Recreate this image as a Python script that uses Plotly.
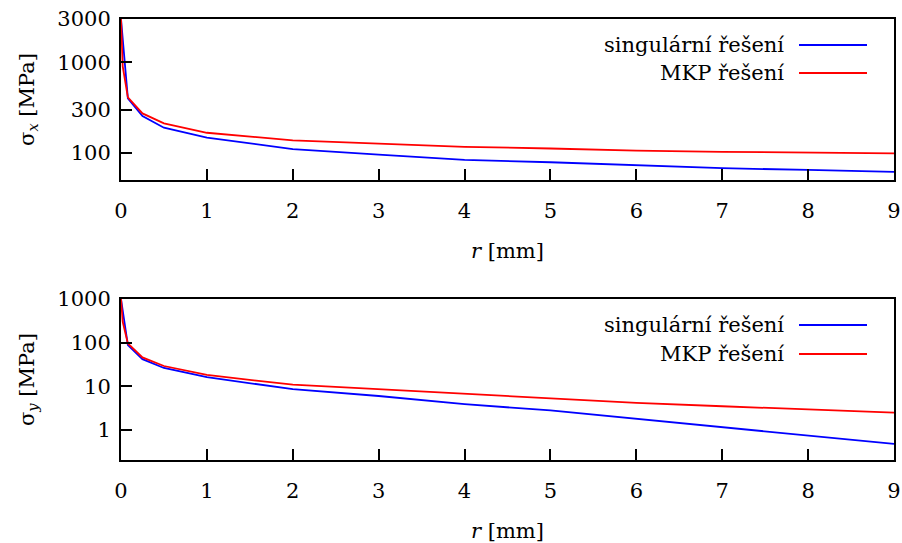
import plotly.graph_objects as go

# ---- data ----
r_sing_x = [0, 0.08, 0.25, 0.5, 1, 2, 3, 4, 5, 6, 7, 8, 9]
sx_sing = [3000, 400, 255, 190, 148, 110, 96, 84, 79, 73, 68, 65, 62]
r_mkp_x = [0, 0.02, 0.08, 0.25, 0.5, 1, 2, 3, 4, 5, 6, 7, 8, 9]
sx_mkp = [3000, 900, 410, 273, 212, 167, 138, 126, 117, 112, 106, 103, 101, 99]

r_sing_y = [0, 0.08, 0.25, 0.5, 1, 2, 3, 4, 5, 6, 7, 8, 9]
sy_sing = [1000, 88, 42, 26.3, 16.2, 8.6, 6.0, 3.9, 2.8, 1.8, 1.15, 0.74, 0.48]
r_mkp_y = [0, 0.02, 0.08, 0.25, 0.5, 1, 2, 3, 4, 5, 6, 7, 8, 9]
sy_mkp = [1000, 300, 96, 46, 29.2, 18.2, 10.9, 8.6, 6.6, 5.3, 4.2, 3.5, 3.0, 2.5]

x_ticks = [0, 1, 2, 3, 4, 5, 6, 7, 8, 9]
yx_ticks = [100, 300, 1000, 3000]
yy_ticks = [1, 10, 100, 1000]
legend_names = ["singulární řešení", "MKP řešení"]
colors = ["#0000ff", "#ff0000"]

W, H = 902, 543
FONT = "DejaVu Serif"
FS = 21

fig = go.Figure()
fig.add_trace(go.Scatter(x=r_sing_x, y=sx_sing, mode="lines", line=dict(color=colors[0], width=1.8),
                         xaxis="x", yaxis="y", showlegend=False))
fig.add_trace(go.Scatter(x=r_mkp_x, y=sx_mkp, mode="lines", line=dict(color=colors[1], width=1.8),
                         xaxis="x", yaxis="y", showlegend=False))
fig.add_trace(go.Scatter(x=r_sing_y, y=sy_sing, mode="lines", line=dict(color=colors[0], width=1.8),
                         xaxis="x2", yaxis="y2", showlegend=False))
fig.add_trace(go.Scatter(x=r_mkp_y, y=sy_mkp, mode="lines", line=dict(color=colors[1], width=1.8),
                         xaxis="x2", yaxis="y2", showlegend=False))

px_x = lambda p: p / W
px_y = lambda p: 1 - p / H

xdom = [px_x(121), px_x(894)]
tfont = dict(family=FONT, size=FS, color="black")
common_x = dict(range=[0, 9], tickvals=x_ticks, ticks="inside", ticklen=11, tickwidth=1.5,
                tickcolor="black", showline=True, linecolor="black", linewidth=2, mirror=True,
                showgrid=False, zeroline=False, tickfont=tfont, automargin=False,
                ticklabelstandoff=11,
                title=dict(text="<i>r</i> [mm]", font=tfont, standoff=21))
common_y = dict(type="log", ticks="inside", ticklen=11, tickwidth=1.5, tickcolor="black",
                showline=True, linecolor="black", linewidth=2, mirror=True, showgrid=False,
                zeroline=False, tickfont=tfont, ticklabelstandoff=4, automargin=False)

fig.update_layout(
    width=W, height=H, margin=dict(l=0, r=0, t=0, b=0),
    paper_bgcolor="white", plot_bgcolor="white", showlegend=False,
    xaxis=dict(domain=xdom, anchor="y", **common_x),
    xaxis2=dict(domain=xdom, anchor="y2", **common_x),
    yaxis=dict(domain=[px_y(180), px_y(19)], anchor="x", range=[1.702, 3.477],
               tickvals=yx_ticks, ticktext=[str(v) for v in yx_ticks],
               title=dict(text="σ<sub><i>x</i></sub> [MPa]", font=tfont, standoff=17),
               **common_y),
    yaxis2=dict(domain=[px_y(460), px_y(299)], anchor="x2", range=[-0.687, 3],
                tickvals=yy_ticks, ticktext=[str(v) for v in yy_ticks],
                title=dict(text="σ<sub><i>y</i></sub> [MPa]", font=tfont, standoff=17),
                **common_y),
)

# manual legends (text on the left, line sample on the right), as in the reference
annotations = []
shapes = []
for rows in ([45, 73], [325, 354]):
    for name, col, yy in zip(legend_names, colors, rows):
        annotations.append(dict(xref="paper", yref="paper", x=px_x(786), y=px_y(yy), text=name,
                                showarrow=False, xanchor="right", yanchor="middle",
                                font=tfont))
        shapes.append(dict(type="line", xref="paper", yref="paper", x0=px_x(799), x1=px_x(867),
                           y0=px_y(yy), y1=px_y(yy), line=dict(color=col, width=1.8)))
fig.update_layout(annotations=annotations, shapes=shapes)

fig.write_html("out.html")
